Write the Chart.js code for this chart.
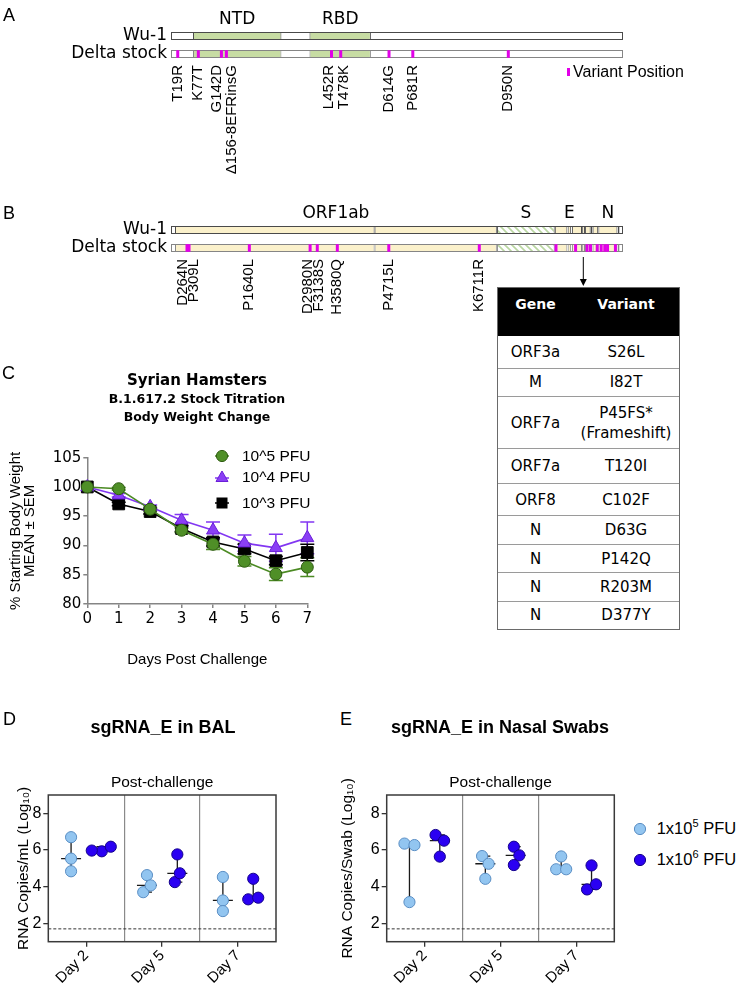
<!DOCTYPE html>
<html><head><meta charset="utf-8">
<script src="https://cdn.jsdelivr.net/npm/chart.js@4.4.1/dist/chart.umd.min.js"></script>
<style>
html,body{margin:0;padding:0;background:#fff;}
body{position:relative;width:736px;height:988px;overflow:hidden;font-family:'Liberation Sans',Arial,sans-serif;color:#000;}
canvas{position:absolute;}
.t{position:absolute;white-space:nowrap;line-height:1;}
.letter{font-size:18px;}
.ctr{text-align:center;width:400px;}
.sup{font-size:11px;position:relative;top:-7px;}
#tbl{position:absolute;left:497px;top:287px;width:183px;border:1px solid #6a6a6a;box-sizing:border-box;background:#fff;font-family:'DejaVu Sans',sans-serif;}
#tbl .hd{background:#000;color:#fff;height:48px;position:relative;font:bold 14px/1 'DejaVu Sans',sans-serif;}
#tbl .hd span{position:absolute;top:9px;text-align:center;}
#tbl .row{display:flex;align-items:center;border-top:1px solid #9a9a9a;box-sizing:border-box;font-size:15px;line-height:20px;}
#tbl .row div{text-align:center;white-space:pre-line;}
</style></head><body>

<canvas id="cA" width="736" height="190" style="left:0;top:0"></canvas>
<canvas id="cB" width="736" height="150" style="left:0;top:195px"></canvas>
<canvas id="cC" width="394" height="240" style="left:0;top:440px"></canvas>
<canvas id="cD" width="330" height="228" style="left:0;top:760px"></canvas>
<canvas id="cE" width="300" height="228" style="left:330px;top:760px"></canvas>

<div class="t letter" style="left:3px;top:6px">A</div>
<div class="t letter" style="left:3px;top:204px">B</div>
<div class="t letter" style="left:2px;top:364px">C</div>
<div class="t letter" style="left:3px;top:710px">D</div>
<div class="t letter" style="left:340px;top:710px">E</div>

<!-- Variant position legend -->
<div style="position:absolute;left:567px;top:68px;width:3px;height:8px;background:#e200e8"></div>
<div class="t" style="left:573px;top:64px;font-size:16px">Variant Position</div>

<!-- arrow to table -->
<svg style="position:absolute;left:578px;top:255px" width="12" height="34"><line x1="5.3" y1="2" x2="5.3" y2="25" stroke="#000" stroke-width="1"/><polygon points="1.8,24 8.8,24 5.3,31" fill="#000"/></svg>

<div id="tbl"></div>

<!-- Panel C titles and legend -->
<div class="t ctr" style="left:-3px;top:372.5px;font:bold 15px/1 'DejaVu Sans',sans-serif">Syrian Hamsters</div>
<div class="t ctr" style="left:-3px;top:392.8px;font:bold 12.5px/1 'DejaVu Sans',sans-serif">B.1.617.2 Stock Titration</div>
<div class="t ctr" style="left:-3px;top:410.8px;font:bold 12.5px/1 'DejaVu Sans',sans-serif">Body Weight Change</div>

<svg style="position:absolute;left:215px;top:448px" width="14" height="16"><line x1="0" y1="8" x2="14" y2="8" stroke="#4b8a23" stroke-width="1.5"/><circle cx="7" cy="8" r="5.6" fill="#4f8f27" stroke="#2f5c12" stroke-width="1"/></svg>
<div class="t" style="left:242px;top:448.2px;font-size:15.5px">10^5 PFU</div>
<svg style="position:absolute;left:215px;top:469px" width="14" height="16"><line x1="0" y1="9" x2="14" y2="9" stroke="#8236f2" stroke-width="1.5"/><polygon points="7,2 13,12.5 1,12.5" fill="#8a3ff5" stroke="#6a1fd8" stroke-width="1"/></svg>
<div class="t" style="left:242px;top:469.2px;font-size:15.5px">10^4 PFU</div>
<svg style="position:absolute;left:215px;top:494.5px" width="14" height="16"><line x1="0" y1="8" x2="14" y2="8" stroke="#000" stroke-width="1.5"/><rect x="1.5" y="2.5" width="11" height="11" fill="#000"/></svg>
<div class="t" style="left:242px;top:494.7px;font-size:15.5px">10^3 PFU</div>

<!-- Panel D/E titles and legend -->
<div class="t ctr" style="left:-37px;top:718px;font:bold 18px/1 'Liberation Sans',Arial,sans-serif">sgRNA_E in BAL</div>
<div class="t ctr" style="left:300px;top:718px;font:bold 18px/1 'Liberation Sans',Arial,sans-serif">sgRNA_E in Nasal Swabs</div>

<svg style="position:absolute;left:632.5px;top:821.5px" width="14" height="14"><circle cx="7" cy="7" r="5.6" fill="#92c5f0" stroke="#5a8ec4" stroke-width="1"/></svg>
<div class="t" style="left:656.7px;top:820px;font-size:16.5px">1x10<span class="sup">5</span> PFU</div>
<svg style="position:absolute;left:632.5px;top:852.5px" width="14" height="14"><circle cx="7" cy="7" r="5.6" fill="#2a00f2" stroke="#14008c" stroke-width="1"/></svg>
<div class="t" style="left:656.7px;top:851px;font-size:16.5px">1x10<span class="sup">6</span> PFU</div>

<script>
// ================= DATA =================
// Panel A: spike protein map
const spikeLength = 1273;
const diagramRows = ['Wu-1', 'Delta stock'];
const spikeDomainNames = ['NTD', 'RBD'];
const spikeDomainStart = [62, 390];
const spikeDomainEnd = [311, 563];
const spikeVariantPos = [19, 77, 142, 156, 452, 478, 614, 681, 950];
const spikeVariantLabels = ['T19R', 'K77T', 'G142D', 'Δ156-8EFRinsG', 'L452R', 'T478K', 'D614G', 'P681R', 'D950N'];

// Panel B: genome map
const genomeLength = 29903;
const geneNames = ['ORF1a', 'ORF1b', 'S', 'ORF3a', 'E', 'M', 'ORF6', 'ORF7a', 'ORF7b', 'ORF8', 'N', 'ORF10'];
const geneStart = [266, 13468, 21563, 25393, 26245, 26523, 27202, 27394, 27756, 27894, 28274, 29558];
const geneEnd = [13468, 21555, 25384, 26220, 26472, 27191, 27387, 27759, 27887, 28259, 29533, 29674];
const genomeRegionNames = ['ORF1ab', 'S', 'E', 'N'];
const genomeRegionStart = [266, 21563, 26245, 28274];
const genomeRegionEnd = [21555, 25384, 26472, 29533];
const genomeVariantNt = [1058, 1193, 5183, 9203, 9677, 11003, 14408, 20396, 25469, 26766, 27526, 27751, 28197, 28460, 28697, 28880, 29402];
const genomeVariantLabels = ['D264N', 'P309L', 'P1640L', 'D2980N', 'F3138S', 'H3580Q', 'P4715L', 'K6711R'];

// Table
const tableHeader = ['Gene', 'Variant'];
const tableGenes = ['ORF3a', 'M', 'ORF7a', 'ORF7a', 'ORF8', 'N', 'N', 'N', 'N'];
const tableVariants = ['S26L', 'I82T', 'P45FS*\n(Frameshift)', 'T120I', 'C102F', 'D63G', 'P142Q', 'R203M', 'D377Y'];

// Panel C: body weight
const bwDays = [0, 1, 2, 3, 4, 5, 6, 7];
const bw1e5 = [100, 99.7, 96.2, 92.6, 90.2, 87.3, 85.1, 86.3];
const bw1e5Sem = [0, 0.2, 0.3, 0.4, 0.9, 0.8, 1.1, 1.6];
const bw1e4 = [100, 98.6, 96.6, 94.3, 92.6, 90.4, 89.6, 91.3];
const bw1e4Sem = [0, 0.3, 0.3, 1.0, 1.4, 1.4, 2.3, 2.7];
const bw1e3 = [100, 97.1, 95.8, 92.9, 90.6, 89.4, 87.4, 88.8];
const bw1e3Sem = [0, 0.3, 0.4, 0.5, 0.7, 0.8, 0.7, 1.4];
const bwYMin = 80, bwYMax = 105, bwYStep = 5;

// Panels D/E: sgRNA_E
const dayLabels = ['Day 2', 'Day 5', 'Day 7'];
const rnaYTicks = [2, 4, 6, 8];
const rnaYMin = 1, rnaYMax = 9;
const lod = 1.7;
const balLowDose = [[6.7, 5.53, 4.84], [3.7, 4.63, 4.07], [4.53, 3.25, 2.67]];
const balHighDose = [[5.93, 6.18, 5.97], [4.25, 5.76, 4.73], [3.31, 4.43, 3.4]];
const nasalLowDose = [[6.35, 6.27, 3.16], [5.67, 5.25, 4.43], [4.95, 5.65, 4.95]];
const nasalHighDose = [[6.82, 6.51, 5.64], [6.18, 5.71, 5.18], [3.85, 5.16, 4.13]];

// ================= STYLE =================
const LIB = "'Liberation Sans', Arial, sans-serif";
const DJV = "'DejaVu Sans', sans-serif";
Chart.defaults.font.family = LIB;
Chart.defaults.color = '#000';
const MAGENTA = '#e200e8';

// ================= TABLE =================
(function buildTable() {
  const tbl = document.getElementById('tbl');
  const hd = document.createElement('div'); hd.className = 'hd';
  const h1 = document.createElement('span'); h1.style.left = '0px'; h1.style.width = '75px'; h1.textContent = tableHeader[0];
  const h2 = document.createElement('span'); h2.style.left = '75px'; h2.style.width = '106px'; h2.textContent = tableHeader[1];
  hd.appendChild(h1); hd.appendChild(h2); tbl.appendChild(hd);
  const rowH = [31.7, 28.3, 52.3, 35, 32, 28.7, 28.3, 28.4, 28.3];
  tableGenes.forEach((g, i) => {
    const r = document.createElement('div'); r.className = 'row'; r.style.height = rowH[i] + 'px';
    if (i === 0) r.style.borderTop = 'none';
    const c1 = document.createElement('div'); c1.style.width = '75px'; c1.textContent = g;
    const c2 = document.createElement('div'); c2.style.width = '106px'; c2.textContent = tableVariants[i];
    r.appendChild(c1); r.appendChild(c2); tbl.appendChild(r);
  });
})();

// ================= DIAGRAMS (A, B) =================
function makeDiagramText(cfg) {
  return {
    id: 'diagramText',
    afterDraw(chart) {
      const { ctx, chartArea: a } = chart; const xs = chart.scales.x;
      ctx.save();
      ctx.fillStyle = '#000';
      ctx.font = cfg.topFont; ctx.textAlign = 'center'; ctx.textBaseline = 'middle';
      cfg.top.forEach(t => ctx.fillText(t.text, xs.getPixelForValue(t.pos), a.top - 7));
      const items = cfg.bottom.map(b => ({ text: b.text, px: xs.getPixelForValue(b.pos) })).sort((p, q) => p.px - q.px);
      for (let it = 0; it < 80; it++) {
        for (let i = 1; i < items.length; i++) {
          const gap = items[i].px - items[i - 1].px;
          if (gap < cfg.minGap) { const d = (cfg.minGap - gap) / 2; items[i - 1].px -= d; items[i].px += d; }
        }
      }
      ctx.font = cfg.bottomFont; ctx.textAlign = 'right'; ctx.textBaseline = 'middle';
      items.forEach(it => {
        ctx.save(); ctx.translate(it.px, a.bottom + 2); ctx.rotate(-Math.PI / 2);
        ctx.fillText(it.text, 0, 0); ctx.restore();
      });
      ctx.restore();
    }
  };
}

function hatchPattern() {
  const c = document.createElement('canvas'); c.width = 7; c.height = 7;
  const g = c.getContext('2d');
  g.fillStyle = '#ffffff'; g.fillRect(0, 0, 7, 7);
  g.strokeStyle = '#b9d6a0'; g.lineWidth = 1.6;
  g.beginPath(); g.moveTo(-1, -1); g.lineTo(8, 8); g.moveTo(-1, 6); g.lineTo(1, 8); g.moveTo(6, -1); g.lineTo(8, 1); g.stroke();
  return g.createPattern(c, 'repeat');
}

function diagramChart(id, o) {
  const rowBorder = ['#4a4a4a', '#858585'];
  const datasets = [];
  datasets.push({
    type: 'scatter', data: o.variants.map(p => ({ x: p, y: diagramRows[1] })),
    pointStyle: 'line', pointRotation: 90, pointRadius: 3.8, pointHoverRadius: 3.8,
    pointBorderColor: MAGENTA, pointBorderWidth: 3, clip: false
  });
  o.segments.forEach(s => datasets.push({
    type: 'bar', data: diagramRows.map(() => [s.start, s.end]), backgroundColor: s.fill,
    borderColor: rowBorder, borderWidth: 1, borderSkipped: false, barThickness: 8, grouped: false, inflateAmount: 0
  }));
  datasets.push({
    type: 'bar', data: diagramRows.map(() => [0, o.length]), backgroundColor: '#ffffff',
    borderColor: rowBorder, borderWidth: 1, borderSkipped: false, barThickness: 8, grouped: false, inflateAmount: 0
  });
  return new Chart(document.getElementById(id), {
    type: 'bar',
    data: { labels: diagramRows, datasets },
    options: {
      indexAxis: 'y', responsive: false, animation: false, events: [], devicePixelRatio: 1,
      layout: { padding: o.padding },
      plugins: { legend: { display: false }, tooltip: { enabled: false } },
      scales: {
        x: { type: 'linear', min: 0, max: o.length, display: false },
        y: {
          type: 'category', offset: true,
          grid: { display: false, drawTicks: false }, border: { display: false },
          ticks: { font: { family: DJV, size: 17, lineHeight: 1 }, color: '#000', padding: 4, autoSkip: false },
          afterFit: s => { s.width = 171; }
        }
      }
    },
    plugins: [makeDiagramText(o.text)]
  });
}

diagramChart('cA', {
  length: spikeLength,
  padding: { top: 27, right: 113, bottom: 127 },
  variants: spikeVariantPos,
  segments: spikeDomainNames.map((n, i) => ({ start: spikeDomainStart[i], end: spikeDomainEnd[i], fill: '#c7dca3' })),
  text: {
    topFont: `17px ${DJV}`, bottomFont: `15px ${LIB}`, minGap: 15,
    top: spikeDomainNames.map((n, i) => ({ text: n, pos: (spikeDomainStart[i] + spikeDomainEnd[i]) / 2 })),
    bottom: spikeVariantLabels.map((l, i) => ({ text: l, pos: spikeVariantPos[i] }))
  }
});

const sHatch = hatchPattern();
diagramChart('cB', {
  length: genomeLength,
  padding: { top: 26, right: 113, bottom: 88 },
  variants: genomeVariantNt,
  segments: geneNames.map((n, i) => ({ start: geneStart[i], end: geneEnd[i], fill: n === 'S' ? sHatch : '#fbf1cb' })),
  text: {
    topFont: `17px ${DJV}`, bottomFont: `15px ${LIB}`, minGap: 11,
    top: genomeRegionNames.map((n, i) => ({ text: n, pos: (genomeRegionStart[i] + genomeRegionEnd[i]) / 2 })),
    bottom: genomeVariantLabels.map((l, i) => ({ text: l, pos: genomeVariantNt[i] }))
  }
});

// ================= PANEL C =================
const errorBars = {
  id: 'errorBars',
  beforeDatasetsDraw(chart) {
    const { ctx } = chart; const xs = chart.scales.x, ys = chart.scales.y;
    ctx.save(); ctx.lineWidth = 1.5;
    chart.data.datasets.forEach(ds => {
      if (!ds.sem) return;
      ctx.strokeStyle = ds.borderColor;
      ds.data.forEach((p, i) => {
        const e = ds.sem[i]; if (!e) return;
        const x = xs.getPixelForValue(p.x), y0 = ys.getPixelForValue(p.y - e), y1 = ys.getPixelForValue(p.y + e);
        ctx.beginPath(); ctx.moveTo(x, y0); ctx.lineTo(x, y1);
        ctx.moveTo(x - 7, y0); ctx.lineTo(x + 7, y0); ctx.moveTo(x - 7, y1); ctx.lineTo(x + 7, y1); ctx.stroke();
      });
    });
    ctx.restore();
  }
};
const AX = '#858585';
new Chart(document.getElementById('cC'), {
  type: 'line',
  data: {
    datasets: [
      { label: '10^5 PFU', data: bwDays.map((d, i) => ({ x: d, y: bw1e5[i] })), sem: bw1e5Sem,
        borderColor: '#4b8a23', borderWidth: 1.6, pointStyle: 'circle', pointRadius: 6, pointBackgroundColor: '#4f8f27',
        pointBorderColor: '#2f5c12', pointBorderWidth: 1, clip: false },
      { label: '10^4 PFU', data: bwDays.map((d, i) => ({ x: d, y: bw1e4[i] })), sem: bw1e4Sem,
        borderColor: '#8236f2', borderWidth: 1.6, pointStyle: 'triangle', pointRadius: 7.5, pointBackgroundColor: '#8a3ff5',
        pointBorderColor: '#6a1fd8', pointBorderWidth: 1, clip: false },
      { label: '10^3 PFU', data: bwDays.map((d, i) => ({ x: d, y: bw1e3[i] })), sem: bw1e3Sem,
        borderColor: '#000000', borderWidth: 1.6, pointStyle: 'rect', pointRadius: 8.3, pointBackgroundColor: '#000',
        pointBorderColor: '#000', pointBorderWidth: 1, clip: false }
    ]
  },
  options: {
    responsive: false, animation: false, events: [], devicePixelRatio: 1,
    layout: { padding: { top: 17.7, right: 86.7 } },
    plugins: { legend: { display: false }, tooltip: { enabled: false } },
    scales: {
      x: {
        type: 'linear', min: bwDays[0], max: bwDays[bwDays.length - 1],
        ticks: { stepSize: 1, font: { family: DJV, size: 15 }, color: '#000', padding: 2 },
        grid: { drawOnChartArea: false, drawTicks: true, tickLength: 4, color: AX, lineWidth: 1.5 },
        border: { display: true, color: AX, width: 1.5 },
        title: { display: true, text: 'Days Post Challenge', font: { family: LIB, size: 15 }, color: '#000', padding: { top: 0, bottom: 11 } },
        afterFit: s => { s.height = 76; }
      },
      y: {
        type: 'linear', min: bwYMin, max: bwYMax,
        ticks: { stepSize: bwYStep, font: { family: DJV, size: 15 }, color: '#000', padding: 2 },
        grid: { drawOnChartArea: false, drawTicks: true, tickLength: 4, color: AX, lineWidth: 1.5 },
        border: { display: true, color: AX, width: 1.5 },
        title: { display: true, text: ['% Starting Body Weight', 'MEAN ± SEM'], font: { family: LIB, size: 15, lineHeight: 0.95 }, color: '#000', padding: { top: 8.4, bottom: 0 } },
        afterFit: s => { s.width = 87.3; }
      }
    }
  },
  plugins: [errorBars]
});

// ================= PANELS D, E =================
function rnaPlugins(lodValue) {
  return [{
    id: 'rnaDecor',
    beforeDatasetsDraw(chart) {
      const { ctx, chartArea: a } = chart; const xs = chart.scales.x, ys = chart.scales.y;
      ctx.save();
      const yl = ys.getPixelForValue(lodValue);
      ctx.setLineDash([3, 2]); ctx.strokeStyle = '#333'; ctx.lineWidth = 1;
      ctx.beginPath(); ctx.moveTo(a.left, yl); ctx.lineTo(a.right, yl); ctx.stroke();
      ctx.setLineDash([]);
      ctx.strokeStyle = '#1a1a1a'; ctx.lineWidth = 1.3;
      chart.data.datasets.forEach(ds => {
        ds.values.forEach((arr, day) => {
          const s = [...arr].sort((p, q) => p - q);
          const med = s.length % 2 ? s[(s.length - 1) / 2] : (s[s.length / 2 - 1] + s[s.length / 2]) / 2;
          const x = xs.getPixelForValue(day + ds.offset);
          const y0 = ys.getPixelForValue(s[0]), y1 = ys.getPixelForValue(s[s.length - 1]), ym = ys.getPixelForValue(med);
          ctx.beginPath();
          ctx.moveTo(x, y0); ctx.lineTo(x, y1);
          ctx.moveTo(x - 5, y0); ctx.lineTo(x + 5, y0);
          ctx.moveTo(x - 5, y1); ctx.lineTo(x + 5, y1);
          ctx.moveTo(x - 10, ym); ctx.lineTo(x + 10, ym);
          ctx.stroke();
        });
      });
      ctx.restore();
    },
    afterDraw(chart) {
      const { ctx, chartArea: a } = chart;
      ctx.save(); ctx.strokeStyle = '#3a3a3a'; ctx.lineWidth = 1.5;
      ctx.strokeRect(a.left, a.top, a.right - a.left, a.bottom - a.top);
      ctx.restore();
    }
  }];
}

function buildPoints(values, offset) {
  const pts = [];
  values.forEach((arr, day) => arr.forEach(v => pts.push({ x: day + offset, y: v, base: day + offset, g: day })));
  return pts;
}

function swarm(chart) {
  const xs = chart.scales.x, ys = chart.scales.y, minD = 10;
  chart.data.datasets.forEach(ds => {
    const groups = {};
    ds.data.forEach(p => { (groups[p.g] = groups[p.g] || []).push(p); });
    Object.values(groups).forEach(gPts => {
      const sorted = [...gPts].sort((p, q) => p.y - q.y);
      const clusters = []; let cur = [sorted[0]];
      for (let i = 1; i < sorted.length; i++) {
        if (Math.abs(ys.getPixelForValue(sorted[i].y) - ys.getPixelForValue(sorted[i - 1].y)) < minD) cur.push(sorted[i]);
        else { clusters.push(cur); cur = [sorted[i]]; }
      }
      clusters.push(cur);
      clusters.forEach(cl => {
        const members = gPts.filter(p => cl.includes(p));
        const placed = [];
        members.forEach(p => {
          const py = ys.getPixelForValue(p.y);
          for (let k = 0; k < 200; k++) {
            const off = (k % 2 === 1 ? 1 : -1) * Math.ceil(k / 2) * 0.5;
            if (placed.every(q => Math.hypot(q.off - off, q.py - py) >= minD)) { placed.push({ p, off, py }); break; }
          }
        });
        const mean = placed.reduce((s, q) => s + q.off, 0) / placed.length;
        placed.forEach(q => { const cx = xs.getPixelForValue(q.p.base); q.p.x = xs.getValueForPixel(cx + q.off - mean); });
      });
    });
  });
  chart.update('none');
}

function rnaChart(id, lowVals, highVals, yTitle, yWidth, yTitlePad, padRight) {
  const ch = new Chart(document.getElementById(id), {
    type: 'scatter',
    data: {
      datasets: [
        { label: '1x10^5 PFU', data: buildPoints(lowVals, -0.2), values: lowVals, offset: -0.2,
          pointRadius: 5.6, pointHoverRadius: 5.6, pointBackgroundColor: '#92c5f0', pointBorderColor: '#5a8ec4', pointBorderWidth: 1, clip: false },
        { label: '1x10^6 PFU', data: buildPoints(highVals, 0.2), values: highVals, offset: 0.2,
          pointRadius: 5.6, pointHoverRadius: 5.6, pointBackgroundColor: '#2a00f2', pointBorderColor: '#14008c', pointBorderWidth: 1, clip: false }
      ]
    },
    options: {
      responsive: false, animation: false, events: [], devicePixelRatio: 1,
      layout: { padding: { top: 0, right: padRight, bottom: 0, left: 0 } },
      plugins: { legend: { display: false }, tooltip: { enabled: false } },
      scales: {
        x: {
          type: 'linear', min: -0.5, max: dayLabels.length - 0.5,
          afterBuildTicks: s => { s.ticks = dayLabels.map((_, i) => ({ value: i })); },
          ticks: { callback: v => dayLabels[Math.round(v)], minRotation: 45, maxRotation: 45, autoSkip: false, font: { family: LIB, size: 15 }, color: '#000', padding: 0 },
          grid: { drawOnChartArea: false, drawTicks: true, tickLength: 5, color: '#333', lineWidth: 1.3 },
          border: { display: false },
          afterFit: s => { s.height = 46.3; }
        },
        x2: {
          type: 'linear', position: 'top', min: -0.5, max: dayLabels.length - 0.5,
          afterBuildTicks: s => { s.ticks = dayLabels.slice(1).map((_, i) => ({ value: i + 0.5 })); },
          ticks: { display: false },
          grid: { drawOnChartArea: true, drawTicks: false, color: '#8a8a8a', lineWidth: 1.2 },
          border: { display: false },
          title: { display: true, text: 'Post-challenge', font: { family: LIB, size: 15.5 }, color: '#000', padding: { top: 13.7, bottom: 0 } },
          afterFit: s => { s.height = 35; }
        },
        y: {
          type: 'linear', min: rnaYMin, max: rnaYMax,
          afterBuildTicks: s => { s.ticks = rnaYTicks.map(v => ({ value: v })); },
          ticks: { font: { family: LIB, size: 16 }, color: '#000', padding: 2 },
          grid: { drawOnChartArea: false, drawTicks: true, tickLength: 5, color: '#333', lineWidth: 1.3 },
          border: { display: false },
          title: { display: true, text: yTitle, font: { family: LIB, size: 15.5 }, color: '#000', padding: { top: yTitlePad, bottom: 0 } },
          afterFit: s => { s.width = yWidth; }
        }
      }
    },
    plugins: rnaPlugins(lod)
  });
  swarm(ch);
  return ch;
}

rnaChart('cD', balLowDose, balHighDose, 'RNA Copies/mL (Log₁₀)', 48.3, 14.7, 54);
rnaChart('cE', nasalLowDose, nasalHighDose, 'RNA Copies/Swab (Log₁₀)', 56.7, 8.7, 15.7);
</script>
</body></html>
